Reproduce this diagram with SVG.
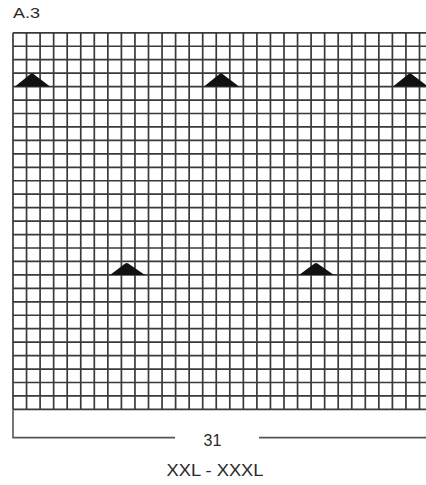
<svg xmlns="http://www.w3.org/2000/svg" width="426" height="485" viewBox="0 0 426 485">
<style>
.grid{stroke:#3a3a3a;stroke-width:1.7;fill:none}
.br{stroke:#555;stroke-width:1.6;fill:none}
.tri{fill:#111}
.t{font-family:"Liberation Sans",Arial,sans-serif;fill:#2a2a2a}
</style>
<rect width="426" height="485" fill="#fff"/>
<text class="t" x="13" y="17.5" font-size="14.5" textLength="27" lengthAdjust="spacingAndGlyphs">A.3</text>
<g id="chart-grid" class="grid">
<path d="M13,32.8V409.4M26.55,32.8V409.4M40.1,32.8V409.4M53.65,32.8V409.4M67.2,32.8V409.4M80.75,32.8V409.4M94.3,32.8V409.4M107.85,32.8V409.4M121.4,32.8V409.4M134.95,32.8V409.4M148.5,32.8V409.4M162.05,32.8V409.4M175.6,32.8V409.4M189.15,32.8V409.4M202.7,32.8V409.4M216.25,32.8V409.4M229.8,32.8V409.4M243.35,32.8V409.4M256.9,32.8V409.4M270.45,32.8V409.4M284,32.8V409.4M297.55,32.8V409.4M311.1,32.8V409.4M324.65,32.8V409.4M338.2,32.8V409.4M351.75,32.8V409.4M365.3,32.8V409.4M378.85,32.8V409.4M392.4,32.8V409.4M405.95,32.8V409.4M419.5,32.8V409.4M433.05,32.8V409.4"/>
<path d="M13,32.8H434M13,46.25H434M13,59.7H434M13,73.15H434M13,86.6H434M13,100.05H434M13,113.5H434M13,126.95H434M13,140.4H434M13,153.85H434M13,167.3H434M13,180.75H434M13,194.2H434M13,207.65H434M13,221.1H434M13,234.55H434M13,248H434M13,261.45H434M13,274.9H434M13,288.35H434M13,301.8H434M13,315.25H434M13,328.7H434M13,342.15H434M13,355.6H434M13,369.05H434M13,382.5H434M13,395.95H434M13,409.4H434"/>
</g>
<g id="symbols">
<path id="tri1" class="tri" d="M15,86.6L30.5,74Q32,73 33.5,74L50,86.6Z"/>
<path id="tri2" class="tri" d="M204,86.6L219.5,74Q221,73 222.5,74L239,86.6Z"/>
<path id="tri3" class="tri" d="M393,86.6L408.5,74Q410,73 411.5,74L428,86.6Z"/>
<path id="tri4" class="tri" d="M110,274.9L125.2,263.4Q126.7,262.4 128.2,263.4L145,274.9Z"/>
<path id="tri5" class="tri" d="M299,274.9L314.5,263.4Q316,262.4 317.5,263.4L334,274.9Z"/>
</g>
<g id="connectors" class="br">
<path d="M13,409.4V437.6H175"/>
<path d="M259,437.6H426"/>
</g>
<g id="labels">
<text class="t" x="212.5" y="446" font-size="16" text-anchor="middle">31</text>
<text class="t" x="166.5" y="475.5" font-size="16" textLength="97" lengthAdjust="spacingAndGlyphs">XXL - XXXL</text>
</g>
</svg>
